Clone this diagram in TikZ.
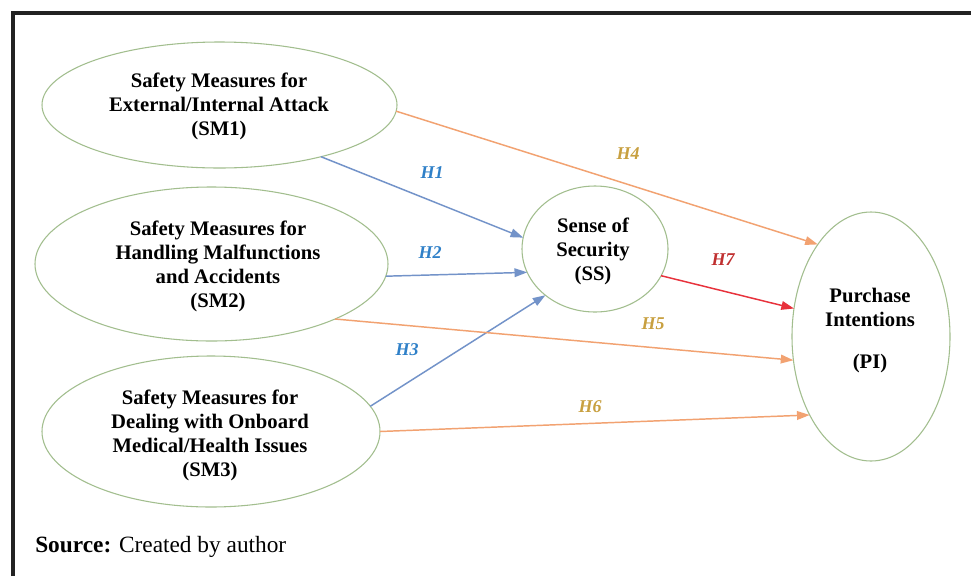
\documentclass[tikz,border=0pt]{standalone}
\usepackage{fontspec}
\setmainfont{Liberation Serif}
\usetikzlibrary{arrows.meta,shapes.geometric}
\definecolor{ellc}{HTML}{A2BE8E}
\definecolor{bluea}{HTML}{7393C9}
\definecolor{orangea}{HTML}{F2A271}
\definecolor{reda}{HTML}{E8323C}
\definecolor{bluet}{HTML}{2F80C8}
\definecolor{goldt}{HTML}{C8A040}
\definecolor{redt}{HTML}{C03030}
\definecolor{framec}{HTML}{222222}
\tikzset{
  ell/.style={draw=ellc, line width=0.8pt, ellipse, inner sep=0pt, outer sep=0pt},
  etext/.style={align=center, font=\fontsize{15.5}{18}\selectfont\bfseries, text=black, inner sep=0pt},
  hlab/.style={font=\fontsize{13.5}{16}\selectfont\bfseries\itshape, inner sep=0pt},
  conn/.style={line width=1.1pt, -{Triangle[length=9.5pt,width=6.5pt]}},
  bconn/.style={conn, draw=bluea, fill=bluea},
  oconn/.style={conn, draw=orangea, fill=orangea},
  rconn/.style={conn, draw=reda, fill=reda},
}
\begin{document}
\begin{tikzpicture}[x=0.75pt, y=-0.75pt]
\useasboundingbox (0,0) rectangle (971,576);
\fill[white] (0,0) rectangle (971,576);
% frame
\draw[framec, line width=3pt] (13,576) -- (13,13) -- (971,13);

% ellipses
\node[ell, minimum width=355pt*0.75, minimum height=126pt*0.75] (SM1) at (219.5,105) {};
\node[ell, minimum width=353pt*0.75, minimum height=154pt*0.75] (SM2) at (211.5,264) {};
\node[ell, minimum width=338pt*0.75, minimum height=151pt*0.75] (SM3) at (211,431.5) {};
\node[ell, minimum width=146pt*0.75, minimum height=126pt*0.75] (SS) at (595,249) {};
\node[ell, minimum width=158pt*0.75, minimum height=249pt*0.75] (PI) at (871,336.5) {};

% texts
\node[etext] (SM1t) at (219,106) {Safety Measures for\\External/Internal Attack\\(SM1)};
\node[etext] (SM2t) at (218,266) {Safety Measures for\\Handling Malfunctions\\and Accidents\\(SM2)};
\node[etext] (SM3t) at (210,435) {Safety Measures for\\Dealing with Onboard\\Medical/Health Issues\\(SM3)};
\node[etext] (SSt) at (593,251) {Sense of\\Security\\(SS)};
\node[etext] (PIt) at (870,331) {Purchase\\Intentions\\[13.5pt](PI)};

% connectors
\draw[bconn] (SM1.-27.5) -- (SS.171.3);
\draw[bconn] (SM2.-4.2) -- (SS.199.9);
\draw[bconn] (SM3.9.3) -- (SS.223.9);
\draw[oconn] (SM1.-2.5) -- (PI.120);
\draw[oconn] (SM2.-24.2) -- (PI.197.9);
\draw[oconn] (SM3.-0.8) -- (PI.232.9);
\draw[rconn] (SS.-22.2) -- (PI.160.2);

% labels
\node[hlab, text=bluet] (H1) at (432,173) {H1};
\node[hlab, text=bluet] (H2) at (430,253) {H2};
\node[hlab, text=bluet] (H3) at (407,350) {H3};
\node[hlab, text=goldt] (H4) at (628,154) {H4};
\node[hlab, text=goldt] (H5) at (653,324) {H5};
\node[hlab, text=goldt] (H6) at (590,407) {H6};
\node[hlab, text=redt] (H7) at (723,260) {H7};

% source
\node[anchor=base west, inner sep=0pt, font=\fontsize{17.5}{20}\selectfont] (src) at (35,552) {\textbf{Source:} Created by author};
\end{tikzpicture}
\end{document}
